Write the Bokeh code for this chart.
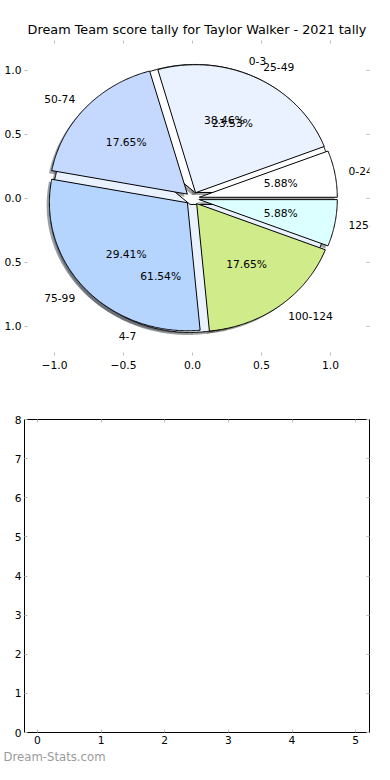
import numpy as np
from bokeh.plotting import figure
from bokeh.models import (ColumnDataSource, LabelSet, FixedTicker, LinearAxis,
                          Range1d, Title)
from bokeh.core.properties import value
from bokeh.layouts import column
from bokeh.embed import file_html
from bokeh.resources import INLINE

# ---------------- data ----------------
title_text = "Dream Team score tally for Taylor Walker - 2021 tally"

score_labels = ["0-24", "25-49", "50-74", "75-99", "100-124", "125-149"]
score_counts = [1, 4, 3, 5, 3, 1]
score_colors = ["#ffffff", "#eaf2ff", "#c5d9ff", "#b5d5ff", "#d0eb8a", "#dcffff"]
score_explode = [0.05, 0.05, 0.05, 0.05, 0.05, 0.05]

goal_labels = ["0-3", "4-7"]
goal_counts = [5, 8]
goal_colors = ["#ffffff", "#eaf2ff"]
goal_explode = [0.05, 0.05]

pie_ticks = [-1.0, -0.5, 0.0, 0.5, 1.0]
pie_xtick_labels = ["\u22121.0", "\u22120.5", "0.0", "0.5", "1.0"]
pie_ytick_labels = ["1.0", "0.5", "0.0", "0.5", "1.0"]   # as visible in the reference

empty_xticks = [0, 1, 2, 3, 4, 5]
empty_yticks = [0, 1, 2, 3, 4, 5, 6, 7, 8]

watermark_text = "Dream-Stats.com"

FONT = "DejaVu Sans"
SMALL = "10.7px"
TICK_GRAY = "#bdbdbd"


def shade(hexcol, f=0.3):
    h = hexcol.lstrip("#")
    r, g, b = (int(h[i:i + 2], 16) for i in (0, 2, 4))
    return "#%02x%02x%02x" % (int(r * f), int(g * f), int(b * f))


def pie_geometry(counts, explode, labels, colors, labeldist=1.1, pctdist=0.6):
    total = float(sum(counts))
    start = 0.0
    out = dict(xs=[], ys=[], sxs=[], sys=[], color=[], shadow=[],
               lx=[], ly=[], lab=[], left=[], px=[], py=[], pct=[])
    for c, e, lab, col in zip(counts, explode, labels, colors):
        frac = c / total
        a0, a1 = start * 360.0, (start + frac) * 360.0
        start += frac
        mid = np.deg2rad((a0 + a1) / 2.0)
        cx, cy = e * np.cos(mid), e * np.sin(mid)
        th = np.deg2rad(np.linspace(a0, a1, max(int((a1 - a0) * 2), 8)))
        xs = [cx] + list(cx + np.cos(th)) + [cx]
        ys = [cy] + list(cy + np.sin(th)) + [cy]
        out["xs"].append(xs)
        out["ys"].append(ys)
        out["sxs"].append([v - 0.02 for v in xs])
        out["sys"].append([v - 0.02 for v in ys])
        out["color"].append(col)
        out["shadow"].append(shade(col))
        lx = cx + labeldist * np.cos(mid)
        ly = cy + labeldist * np.sin(mid)
        out["lx"].append(lx)
        out["ly"].append(ly)
        out["lab"].append(lab)
        out["left"].append(lx > 0)
        out["px"].append(cx + pctdist * np.cos(mid))
        out["py"].append(cy + pctdist * np.sin(mid))
        out["pct"].append("%.2f%%" % (frac * 100))
    return out


score = pie_geometry(score_counts, score_explode, score_labels, score_colors)
goal = pie_geometry(goal_counts, goal_explode, goal_labels, goal_colors)

# ---------------- top: pie ----------------
p1 = figure(width=374, height=392, output_backend="svg", toolbar_location=None,
            x_range=Range1d(-1.2174, 1.2826), y_range=Range1d(-1.227, 1.234),
            min_border_left=24, min_border_right=5, min_border_top=40,
            min_border_bottom=37)
p1.title.text = title_text
p1.title.align = "center"
p1.title.text_font = FONT
p1.title.text_font_size = "12.8px"
p1.title.text_font_style = "normal"
p1.title.text_color = "#000000"
p1.title.standoff = 8
p1.outline_line_color = None
p1.grid.visible = False
p1.background_fill_color = "white"
p1.border_fill_color = "white"

# shadows (below everything)
for g in (goal, score):
    src = ColumnDataSource(dict(xs=g["sxs"], ys=g["sys"], c=g["shadow"]))
    p1.patches("xs", "ys", source=src, fill_color="c", fill_alpha=0.5, line_color=None)
# underlying pie, then the score pie on top
for g in (goal, score):
    src = ColumnDataSource(dict(xs=g["xs"], ys=g["ys"], c=g["color"]))
    p1.patches("xs", "ys", source=src, fill_color="c", line_color="black", line_width=1)

# labels
for g in (goal, score):
    for side, align in ((True, "left"), (False, "right")):
        idx = [i for i, l in enumerate(g["left"]) if l == side]
        if not idx:
            continue
        src = ColumnDataSource(dict(x=[g["lx"][i] for i in idx], y=[g["ly"][i] for i in idx],
                                    t=[g["lab"][i] for i in idx]))
        p1.add_layout(LabelSet(x="x", y="y", text="t", source=src, text_align=align,
                               text_baseline="middle", text_font=value(FONT),
                               text_font_size=SMALL, text_color="black"))
    src = ColumnDataSource(dict(x=g["px"], y=g["py"], t=g["pct"]))
    p1.add_layout(LabelSet(x="x", y="y", text="t", source=src, text_align="center",
                           text_baseline="middle", text_font=value(FONT),
                           text_font_size=SMALL, text_color="black"))


def style_axis(ax, ticks, labels=None, standoff=4):
    ax.ticker = FixedTicker(ticks=ticks)
    ax.axis_line_color = None
    ax.major_tick_in = 3
    ax.major_tick_out = 0
    ax.major_tick_line_color = TICK_GRAY
    ax.major_tick_line_width = 1
    ax.minor_tick_line_color = None
    ax.major_label_standoff = standoff
    ax.major_label_text_font = FONT
    ax.major_label_text_font_size = SMALL
    ax.major_label_text_color = "black"
    if labels is not None:
        ax.major_label_overrides = {float(t): l for t, l in zip(ticks, labels)}


def tick_only_axis(ticks):
    # tick marks without labels: ticks drawn as minor ticks (which carry no labels)
    ax = LinearAxis(ticker=FixedTicker(ticks=[], minor_ticks=ticks))
    ax.axis_line_color = None
    ax.major_tick_line_color = None
    ax.minor_tick_in = 3
    ax.minor_tick_out = 0
    ax.minor_tick_line_color = TICK_GRAY
    ax.minor_tick_line_width = 1
    ax.major_label_standoff = 0
    return ax


style_axis(p1.xaxis[0], pie_ticks, pie_xtick_labels, standoff=5)
style_axis(p1.yaxis[0], pie_ticks, pie_ytick_labels, standoff=3)
p1.add_layout(tick_only_axis(pie_ticks), "above")
p1.add_layout(tick_only_axis(pie_ticks), "right")

# ---------------- bottom: empty axes ----------------
p2 = figure(width=374, height=372, output_backend="svg", toolbar_location=None,
            x_range=Range1d(-0.202, 5.217), y_range=Range1d(0, 8),
            min_border_left=21, min_border_right=4, min_border_top=27,
            min_border_bottom=30)
p2.outline_line_color = "black"
p2.outline_line_width = 1
p2.grid.visible = False
p2.background_fill_color = "white"
p2.border_fill_color = "white"
style_axis(p2.xaxis[0], empty_xticks, standoff=3)
style_axis(p2.yaxis[0], empty_yticks, standoff=3)
p2.add_layout(tick_only_axis(empty_xticks), "above")
p2.add_layout(tick_only_axis(empty_yticks), "right")

# watermark under the lower axes, at the canvas' left edge
p2.add_layout(Title(text=watermark_text, align="left", offset=-21, standoff=2,
                    text_font=FONT, text_font_size="11.7px", text_font_style="normal",
                    text_color="#9a9a9a"), "below")

layout = column(p1, p2, spacing=0)
open("out.html", "w").write(file_html(layout, INLINE))
